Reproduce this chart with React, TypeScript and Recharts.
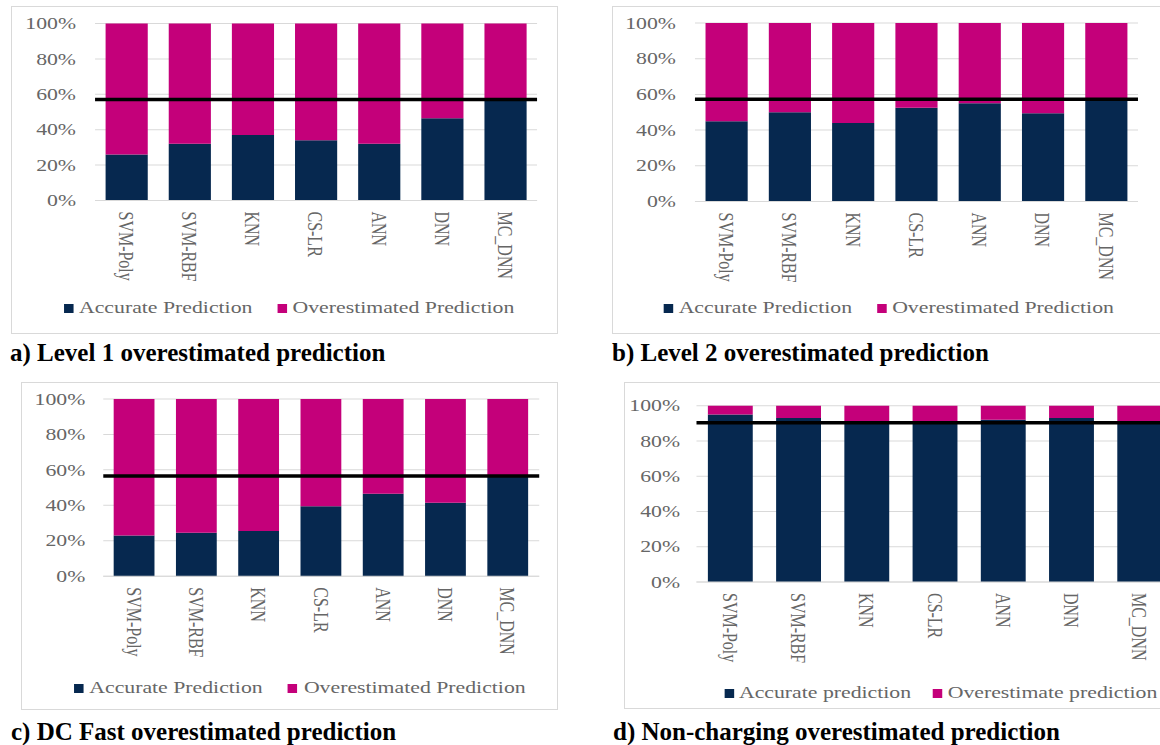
import React from "react";
import { BarChart, Bar, XAxis, YAxis, CartesianGrid, ReferenceLine, Legend } from "recharts";

// models on the x axis, same order in every panel
const categories = ["SVM-Poly", "SVM-RBF", "KNN", "CS-LR", "ANN", "DNN", "MC_DNN"];
const yTicks = [0, 20, 40, 60, 80, 100];

// a) Level 1
const level1Accurate = [26, 32, 37, 34, 32, 46.5, 56.5];
const level1Over = [74, 68, 63, 66, 68, 53.5, 43.5];
const level1Line = 57;

// b) Level 2
const level2Accurate = [45, 50, 44, 52.5, 55, 49.5, 57.5];
const level2Over = [55, 50, 56, 47.5, 45, 50.5, 42.5];
const level2Line = 57.3;

// c) DC Fast
const dcFastAccurate = [23, 24.5, 25.5, 39.5, 46.5, 41.5, 56];
const dcFastOver = [77, 75.5, 74.5, 60.5, 53.5, 58.5, 44];
const dcFastLine = 56.5;

// d) Non-charging
const nonChargingAccurate = [95, 93, 90.5, 90.5, 92, 93, 90];
const nonChargingOver = [5, 7, 9.5, 9.5, 8, 7, 10];
const nonChargingLine = 90.3;

const NAVY = "#06284f";
const MAGENTA = "#c4007a";
const GRID = "#d9d9d9";
const TEXT = "#666666";
const FONT = "'Liberation Serif', 'Times New Roman', serif";
// the source figure is stretched sideways, so every panel is drawn narrow and scaled out
const STRETCH = 1.36;

const rows = (acc: number[], over: number[]) =>
  categories.map((name, i) => ({ name, accurate: acc[i], over: over[i] }));

const XTick = (props: any) => {
  const { x, y, payload } = props;
  return (
    <text
      x={x}
      y={y}
      transform={`rotate(90, ${x}, ${y})`}
      dy="0.35em"
      textAnchor="start"
      fill={TEXT}
      fontSize={16}
      fontFamily={FONT}
    >
      {payload.value}
    </text>
  );
};

const makeLegend = (pos: number[]) => (props: any) => {
  const payload = props.payload || [];
  return (
    <div style={{ position: "relative", height: 20, fontFamily: FONT, fontSize: 16, color: TEXT }}>
      {payload.map((p: any, i: number) => (
        <React.Fragment key={i}>
          <span
            style={{ position: "absolute", left: pos[i * 2], top: 5.5, width: 7, height: 9, background: p.color }}
          />
          <span style={{ position: "absolute", left: pos[i * 2 + 1], top: 0, lineHeight: "20px", whiteSpace: "nowrap" }}>
            {p.value}
          </span>
        </React.Fragment>
      ))}
    </div>
  );
};

type PanelProps = {
  box: { left: number; top: number; width: number; height: number };
  data: { name: string; accurate: number; over: number }[];
  line: number;
  names: [string, string];
  yWidth: number;
  yGap: number;
  top: number;
  right: number;
  bottom: number;
  xHeight: number;
  legendPos: number[];
};

function Panel({ box, data, line, names, yWidth, yGap, top, right, bottom, xHeight, legendPos }: PanelProps) {
  const w = box.width / STRETCH;
  return (
    <>
      <div
        style={{
          position: "absolute",
          left: box.left,
          top: box.top,
          width: box.width,
          height: box.height,
          overflow: "hidden",
        }}
      >
        <div style={{ transform: `scaleX(${STRETCH})`, transformOrigin: "0 0", width: w }}>
          <BarChart
            width={w}
            height={box.height}
            data={data}
            margin={{ top, right, bottom, left: 0 }}
            barCategoryGap="16.7%"
          >
            <CartesianGrid vertical={false} stroke={GRID} />
            <XAxis
              dataKey="name"
              interval={0}
              tickLine={false}
              tickSize={0}
              tickMargin={11}
              axisLine={{ stroke: GRID }}
              height={xHeight}
              tick={<XTick />}
            />
            <YAxis
              domain={[0, 100]}
              ticks={yTicks}
              tickFormatter={(v: number) => `${v}%`}
              axisLine={false}
              tickLine={false}
              tickSize={0}
              tickMargin={yGap}
              width={yWidth}
              tick={{ fill: TEXT, fontSize: 16, fontFamily: FONT }}
            />
            <Bar dataKey="accurate" name={names[0]} stackId="s" fill={NAVY} isAnimationActive={false} />
            <Bar dataKey="over" name={names[1]} stackId="s" fill={MAGENTA} isAnimationActive={false} />
            <ReferenceLine y={line} stroke="#000" strokeWidth={3.5} />
            <Legend
              verticalAlign="bottom"
              content={makeLegend(legendPos)}
              wrapperStyle={{ left: 0, width: w }}
            />
          </BarChart>
        </div>
      </div>
      <div
        style={{
          position: "absolute",
          left: box.left,
          top: box.top,
          width: box.width,
          height: box.height,
          border: `1px solid ${GRID}`,
          boxSizing: "border-box",
          pointerEvents: "none",
        }}
      />
    </>
  );
}

const captionStyle = (left: number, top: number): React.CSSProperties => ({
  position: "absolute",
  left,
  top,
  fontFamily: FONT,
  fontWeight: "bold",
  fontSize: 25,
  lineHeight: "25px",
  color: "#000",
  whiteSpace: "nowrap",
});

export default function App() {
  return (
    <div
      style={{
        position: "fixed",
        left: 0,
        top: 0,
        width: 1160,
        height: 745,
        overflow: "hidden",
        background: "#fff",
      }}
    >
      <Panel
        box={{ left: 11, top: 6, width: 547, height: 328 }}
        data={rows(level1Accurate, level1Over)}
        line={level1Line}
        names={["Accurate Prediction", "Overestimated Prediction"]}
        yWidth={61.8}
        yGap={14}
        top={17.5}
        right={15.4}
        bottom={16}
        xHeight={97.5}
        legendPos={[39, 50, 196, 207]}
      />
      <Panel
        box={{ left: 612, top: 6, width: 560, height: 328 }}
        data={rows(level2Accurate, level2Over)}
        line={level2Line}
        names={["Accurate Prediction", "Overestimated Prediction"]}
        yWidth={61}
        yGap={14}
        top={17}
        right={25}
        bottom={16}
        xHeight={96.5}
        legendPos={[38, 49, 195, 206]}
      />
      <Panel
        box={{ left: 20.7, top: 381.7, width: 537, height: 328 }}
        data={rows(dcFastAccurate, dcFastOver)}
        line={dcFastLine}
        names={["Accurate Prediction", "Overestimated Prediction"]}
        yWidth={60.5}
        yGap={13.2}
        top={16.9}
        right={13.8}
        bottom={11.7}
        xHeight={102}
        legendPos={[38.5, 50.2, 196.2, 208]}
      />
      <Panel
        box={{ left: 624, top: 382, width: 570, height: 327 }}
        data={rows(nonChargingAccurate, nonChargingOver)}
        line={nonChargingLine}
        names={["Accurate prediction", "Overestimate prediction"]}
        yWidth={53.3}
        yGap={12.1}
        top={23.7}
        right={14.6}
        bottom={6}
        xHeight={101}
        legendPos={[74, 84.5, 226.5, 238]}
      />
      <div style={captionStyle(10, 340)}>a) Level 1 overestimated prediction</div>
      <div style={captionStyle(612, 340)}>b) Level 2 overestimated prediction</div>
      <div style={captionStyle(11, 718.5)}>c) DC Fast overestimated prediction</div>
      <div style={captionStyle(613, 718.5)}>d) Non-charging overestimated prediction</div>
    </div>
  );
}
